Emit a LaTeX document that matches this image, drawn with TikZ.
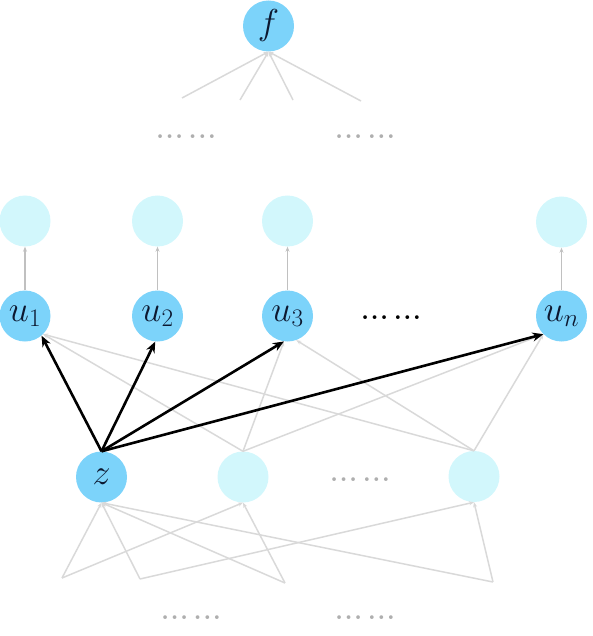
\RequirePackage{fix-cm}
\documentclass[tikz,border=0pt]{standalone}
\usetikzlibrary{arrows.meta}
\definecolor{nodeblue}{RGB}{124,211,250}
\definecolor{nodelight}{RGB}{210,247,252}
\definecolor{edgegray}{RGB}{217,217,217}
\definecolor{upgray}{RGB}{192,192,192}
\definecolor{dotgray}{RGB}{175,175,175}
\definecolor{labelink}{RGB}{12,24,48}
\newcommand\dotgroup{.\kern1.4pt.\kern1.4pt.}
\newcommand\dotpair{\dotgroup\kern5.5pt\dotgroup}
\begin{document}
\begin{tikzpicture}[x=1pt,y=-1pt,
  unit/.style={circle,fill=nodeblue,minimum size=51pt,inner sep=0pt,text=labelink,font=\fontsize{36}{42}\selectfont},
  ghost/.style={circle,fill=nodelight,minimum size=51pt,inner sep=0pt},
  faint/.style={draw=edgegray,line width=1.5pt,-{Stealth[length=5pt,width=4pt]}},
  upedge/.style={draw=upgray,line width=1.5pt,-{Stealth[length=5pt,width=4pt]}},
  strong/.style={draw=black,line width=2.6pt,-{Stealth[length=11pt,width=9pt]}},
  ellip/.style={inner sep=0pt,anchor=base,font=\fontsize{26}{30}\selectfont\bfseries},
]
\useasboundingbox (0,0) rectangle (592,636);

% top
\node[unit] (f) at (268.5,26) {$f$};
\coordinate (q1) at (182,98);
\coordinate (q2) at (240,100);
\coordinate (q3) at (293,100);
\coordinate (q4) at (361,101);
\node[ellip,text=dotgray] (d1) at (186,139) {\dotpair};
\node[ellip,text=dotgray] (d2) at (365,139) {\dotpair};

% hidden outputs
\node[ghost] (h1) at (25,221) {};
\node[ghost] (h2) at (157.5,221) {};
\node[ghost] (h3) at (287.5,221) {};
\node[ghost] (hn) at (561.5,222) {};

% u layer
\node[unit] (u1) at (25,316) {$u_1$};
\node[unit] (u2) at (157.5,316) {$u_2$};
\node[unit] (u3) at (287.5,316) {$u_3$};
\node[unit] (un) at (561.5,316) {$u_n$};
\node[ellip,text=black] (d3) at (391,319) {\dotpair};

% middle layer
\node[unit] (z) at (101.5,477) {$z$};
\node[ghost] (m2) at (243,477) {};
\node[ghost] (m3) at (474,476.5) {};
\node[ellip,text=dotgray] (d4) at (360,481) {\dotpair};

% bottom
\coordinate (p1) at (62,578);
\coordinate (p2) at (140,579);
\coordinate (p3) at (285,583);
\coordinate (p4) at (493,582);
\node[ellip,text=dotgray] (d5) at (191,619) {\dotpair};
\node[ellip,text=dotgray] (d6) at (365,619) {\dotpair};

% edges into f
\draw[faint] (q1) -- (f.south);
\draw[faint] (q2) -- (f.south);
\draw[faint] (q3) -- (f.south);
\draw[faint] (q4) -- (f.south);

% u -> hidden
\draw[upedge] (u1) -- (h1);
\draw[upedge] (u2) -- (h2);
\draw[upedge] (u3) -- (h3);
\draw[upedge] (un) -- (hn);

% bottom -> middle
\draw[faint] (p1) -- (z.south);
\draw[faint] (p1) -- (m2.south);
\draw[faint] (p2) -- (z.south);
\draw[faint] (p2) -- (m3.south);
\draw[faint] (p3) -- (z.south);
\draw[faint] (p3) -- (m2.south);
\draw[faint] (p4) -- (z.south);
\draw[faint] (p4) -- (m3.south);

% middle -> u (gray)
\draw[faint] (m2.north) -- (u1.-45);
\draw[faint] (m2.north) -- (u3.-98);
\draw[faint] (m2.north) -- (un.225);
\draw[faint] (m3.north) -- (u1.-45);
\draw[faint] (m3.north) -- (u3.-70);
\draw[faint] (m3.north) -- (un.225);

% z -> u (black)
\draw[strong] (z.north) -- (u1.-50);
\draw[strong] (z.north) -- (u2.-95);
\draw[strong] (z.north) -- (u3.-98);
\draw[strong] (z.north) -- (un.225);
\end{tikzpicture}
\end{document}
